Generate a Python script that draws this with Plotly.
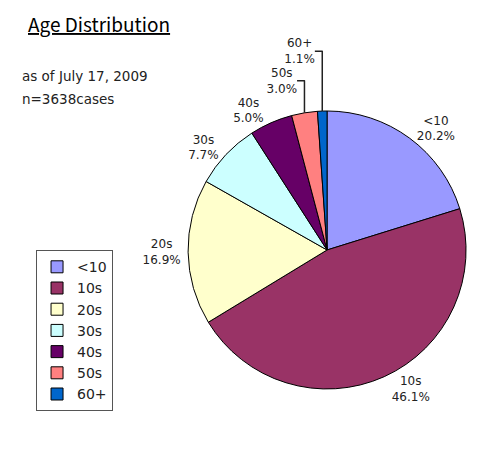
import plotly.graph_objects as go

# Age groups and share of cases (%)
groups = ["<10", "10s", "20s", "30s", "40s", "50s", "60+"]
shares = [20.2, 46.1, 16.9, 7.7, 5.0, 3.0, 1.1]
colors = ["#9999FF", "#993366", "#FFFFCC", "#CCFFFF", "#660066", "#FF8080", "#0066CC"]

font_name = "DejaVu Sans"

fig = go.Figure(
    go.Pie(
        labels=groups,
        values=shares,
        sort=False,
        direction="clockwise",
        rotation=0,
        marker=dict(colors=colors, line=dict(color="#000000", width=1)),
        texttemplate="%{label}<br>%{value:.1f}%",
        textposition="outside",
        textfont=dict(family=font_name, size=12, color="#222222"),
        domain=dict(x=[0.366, 0.931], y=[0.166, 0.775]),
        hoverinfo="label+percent",
    )
)

# note: the page body adds 8px, so positions are moved up/left to match
fig.update_layout(
    width=492,
    height=457,
    margin=dict(l=0, r=0, t=0, b=0),
    paper_bgcolor="white",
    plot_bgcolor="white",
    font=dict(family=font_name, size=12, color="#222222"),
    showlegend=True,
    legend=dict(
        x=0.057, y=0.47, xanchor="left", yanchor="top",
        bordercolor="#555555", borderwidth=1,
        font=dict(size=14),
        tracegroupgap=0,
        itemwidth=30,
    ),
    annotations=[
        dict(text="<u>Age Distribution</u>", x=0.037, y=1.0, xref="paper", yref="paper",
             xanchor="left", yanchor="top", showarrow=False,
             font=dict(family="Noto Sans CJK JP", size=19, color="#000000")),
        dict(text="as of July 17, 2009", x=0.025, y=0.872, xref="paper", yref="paper",
             xanchor="left", yanchor="top", showarrow=False, align="left", font=dict(size=13.5)),
        dict(text="n=3638cases", x=0.025, y=0.823, xref="paper", yref="paper",
             xanchor="left", yanchor="top", showarrow=False, align="left", font=dict(size=13.5)),
    ],
)

fig.write_html("out.html")
